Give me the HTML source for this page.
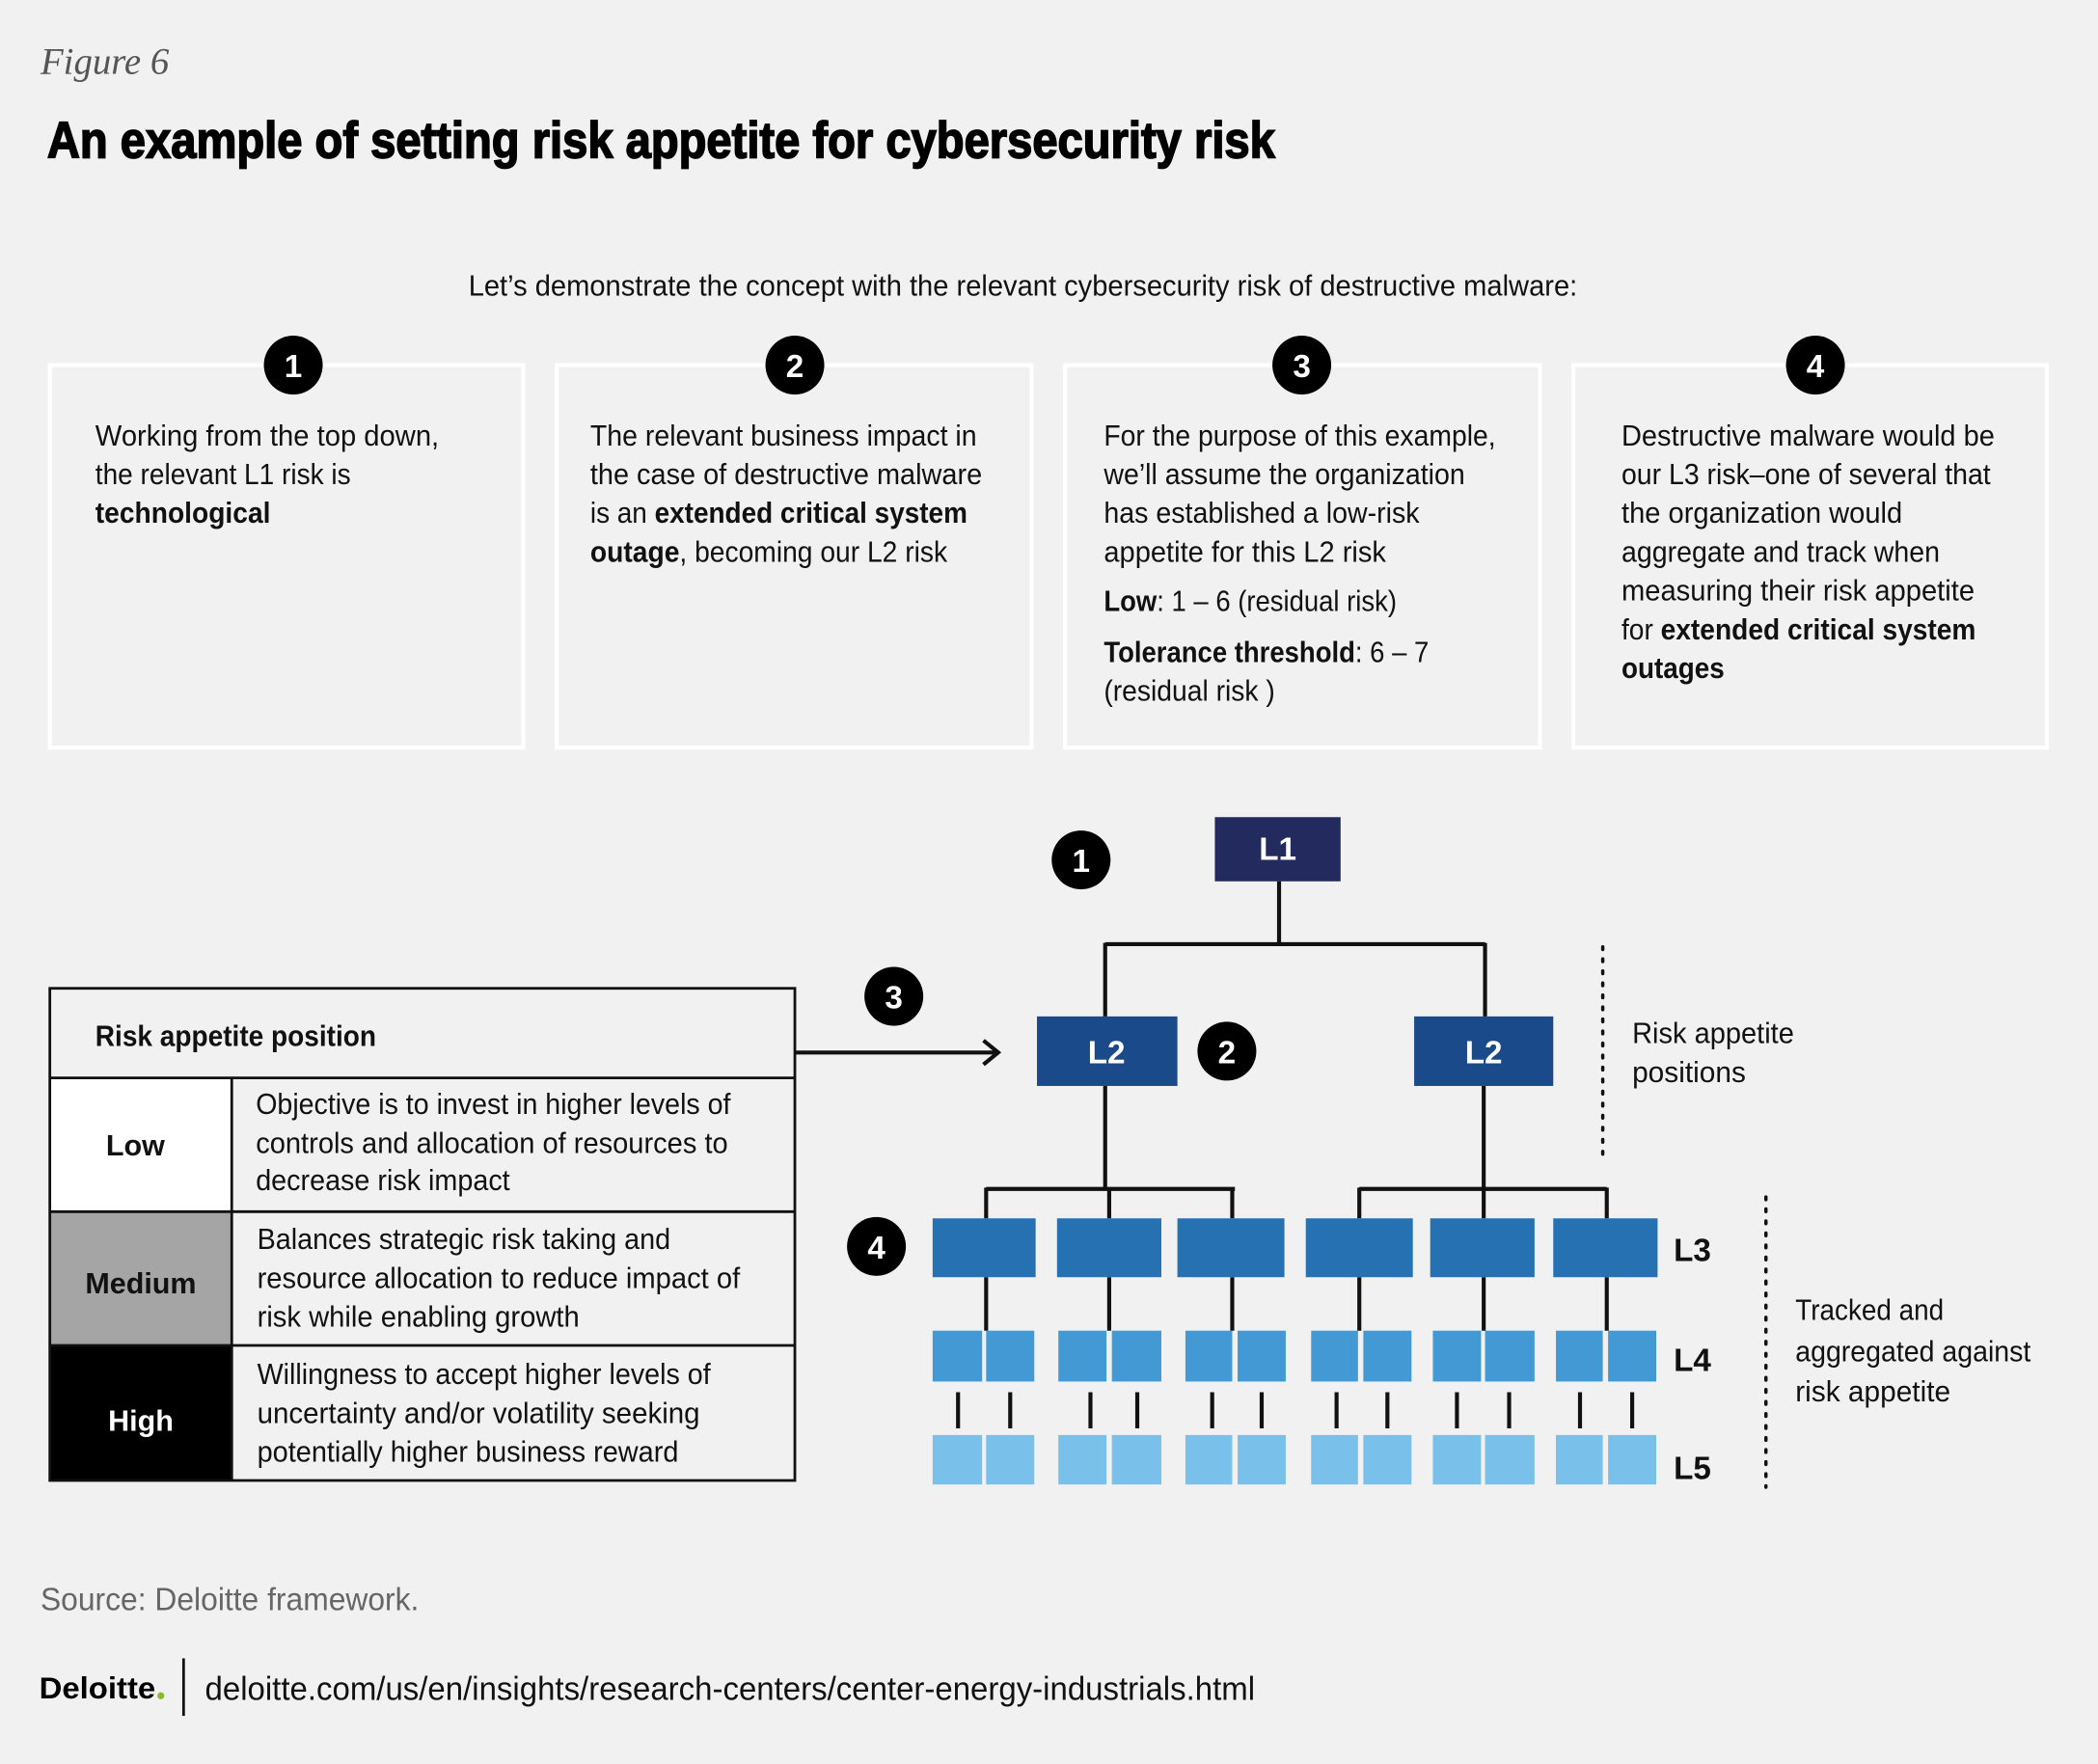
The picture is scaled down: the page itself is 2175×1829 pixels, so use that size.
<!DOCTYPE html>
<html><head><meta charset="utf-8"><style>
html,body{margin:0;padding:0;background:#f0f1f0;}
svg{display:block;}
text{font-family:"Liberation Sans Narrow","Liberation Sans",sans-serif;fill:#111;}
.t{font-size:22px;}
.b{font-weight:bold;}
.n{font-family:"Liberation Sans Narrow","Liberation Sans",sans-serif;font-weight:bold;font-size:24px;fill:#fff;}
</style></head><body>
<svg width="2175" height="1829" viewBox="0 0 1568 1319" xmlns="http://www.w3.org/2000/svg">
<rect width="1568" height="1319" fill="#f0f1f0"/>
<text x="30" y="55" style="font-family:'Liberation Serif',serif;font-style:italic;font-size:28px;fill:#555">Figure 6</text>
<text x="35" y="118" class="b" style="font-size:38px;fill:#000;stroke:#000;stroke-width:1.2" textLength="918" lengthAdjust="spacingAndGlyphs">An example of setting risk appetite for cybersecurity risk</text>
<text x="350" y="221" style="font-size:22px" textLength="829" lengthAdjust="spacingAndGlyphs">Let’s demonstrate the concept with the relevant cybersecurity risk of destructive malware:</text>

<g fill="none" stroke="#fff" stroke-width="3">
<rect x="37" y="273" width="354" height="286"/><rect x="416" y="273" width="355" height="286"/>
<rect x="796" y="273" width="355" height="286"/><rect x="1176" y="273" width="354" height="286"/>
</g>
<g>
<circle cx="219" cy="273" r="22" fill="#000"/><text x="219" y="282" class="n" text-anchor="middle">1</text>
<circle cx="594" cy="273" r="22" fill="#000"/><text x="594" y="282" class="n" text-anchor="middle">2</text>
<circle cx="973" cy="273" r="22" fill="#000"/><text x="973" y="282" class="n" text-anchor="middle">3</text>
<circle cx="1357" cy="273" r="22" fill="#000"/><text x="1357" y="282" class="n" text-anchor="middle">4</text>
</g>
<g class="t">
<text x="71" y="333" class="t" textLength="257" lengthAdjust="spacingAndGlyphs">Working from the top down,</text>
<text x="71" y="362" class="t" textLength="191" lengthAdjust="spacingAndGlyphs">the relevant L1 risk is</text>
<text x="71" y="391" class="t b" textLength="131" lengthAdjust="spacingAndGlyphs">technological</text>

<text x="441" y="333" class="t" textLength="289" lengthAdjust="spacingAndGlyphs">The relevant business impact in</text>
<text x="441" y="362" class="t" textLength="293" lengthAdjust="spacingAndGlyphs">the case of destructive malware</text>
<text x="441" y="391" class="t" textLength="282" lengthAdjust="spacingAndGlyphs">is an <tspan class="b">extended critical system</tspan></text>
<text x="441" y="420" class="t" textLength="267" lengthAdjust="spacingAndGlyphs"><tspan class="b">outage</tspan>, becoming our L2 risk</text>

<text x="825" y="333" class="t" textLength="293" lengthAdjust="spacingAndGlyphs">For the purpose of this example,</text>
<text x="825" y="362" class="t" textLength="270" lengthAdjust="spacingAndGlyphs">we’ll assume the organization</text>
<text x="825" y="391" class="t" textLength="236" lengthAdjust="spacingAndGlyphs">has established a low-risk</text>
<text x="825" y="420" class="t" textLength="211" lengthAdjust="spacingAndGlyphs">appetite for this L2 risk</text>
<text x="825" y="457" class="t" textLength="219" lengthAdjust="spacingAndGlyphs"><tspan class="b">Low</tspan>: 1 – 6 (residual risk)</text>
<text x="825" y="495" class="t" textLength="243" lengthAdjust="spacingAndGlyphs"><tspan class="b">Tolerance threshold</tspan>: 6 – 7</text>
<text x="825" y="524" class="t" textLength="128" lengthAdjust="spacingAndGlyphs">(residual risk )</text>

<text x="1212" y="333" class="t" textLength="279" lengthAdjust="spacingAndGlyphs">Destructive malware would be</text>
<text x="1212" y="362" class="t" textLength="276" lengthAdjust="spacingAndGlyphs">our L3 risk–one of several that</text>
<text x="1212" y="391" class="t" textLength="210" lengthAdjust="spacingAndGlyphs">the organization would</text>
<text x="1212" y="420" class="t" textLength="238" lengthAdjust="spacingAndGlyphs">aggregate and track when</text>
<text x="1212" y="449" class="t" textLength="264" lengthAdjust="spacingAndGlyphs">measuring their risk appetite</text>
<text x="1212" y="478" class="t" textLength="265" lengthAdjust="spacingAndGlyphs">for <tspan class="b">extended critical system</tspan></text>
<text x="1212" y="507" class="t b" textLength="77" lengthAdjust="spacingAndGlyphs">outages</text>
</g>

<g stroke="#111" stroke-width="3" fill="none">
<path d="M956 659V706M826 706H1110M826 705V760M1110 705V760"/>
<path d="M826 812V889M737 889H923M737 888V911M829 888V911M921 888V911"/>
<path d="M1109 812V889M1016 889H1201M1016 888V911M1109 888V911M1201 888V911"/>
<path d="M737 955V995M829 955V995M921 955V995M1016 955V995M1109 955V995M1201 955V995"/>
<path d="M716 1041V1068M755 1041V1068M815 1041V1068M850 1041V1068M906 1041V1068M943 1041V1068M999 1041V1068M1037 1041V1068M1089 1041V1068M1128 1041V1068M1181 1041V1068M1220 1041V1068"/>
<path d="M594 787H745M735 778L746 787L735 796"/>
</g>
<rect x="908" y="611" width="94" height="48" fill="#232a5e"/>
<text x="955" y="643" class="n" text-anchor="middle">L1</text>
<rect x="775" y="760" width="105" height="52" fill="#1b4a8a"/>
<text x="827" y="795" class="n" text-anchor="middle">L2</text>
<rect x="1057" y="760" width="104" height="52" fill="#1b4a8a"/>
<text x="1109" y="795" class="n" text-anchor="middle">L2</text>
<g fill="#2671b1">
<rect x="697" y="911" width="77" height="44"/><rect x="790" y="911" width="78" height="44"/><rect x="880" y="911" width="80" height="44"/>
<rect x="976" y="911" width="80" height="44"/><rect x="1069" y="911" width="78" height="44"/><rect x="1161" y="911" width="78" height="44"/>
</g>
<g fill="#4299d4">
<rect x="697" y="995" width="37" height="38"/><rect x="737" y="995" width="36" height="38"/>
<rect x="791" y="995" width="36" height="38"/><rect x="831" y="995" width="37" height="38"/>
<rect x="886" y="995" width="35" height="38"/><rect x="925" y="995" width="36" height="38"/>
<rect x="980" y="995" width="35" height="38"/><rect x="1019" y="995" width="36" height="38"/>
<rect x="1071" y="995" width="36" height="38"/><rect x="1110" y="995" width="37" height="38"/>
<rect x="1163" y="995" width="35" height="38"/><rect x="1202" y="995" width="36" height="38"/>
</g>
<g fill="#79c0ea">
<rect x="697" y="1073" width="37" height="37"/><rect x="737" y="1073" width="36" height="37"/>
<rect x="791" y="1073" width="36" height="37"/><rect x="831" y="1073" width="37" height="37"/>
<rect x="886" y="1073" width="35" height="37"/><rect x="925" y="1073" width="36" height="37"/>
<rect x="980" y="1073" width="35" height="37"/><rect x="1019" y="1073" width="36" height="37"/>
<rect x="1071" y="1073" width="36" height="37"/><rect x="1110" y="1073" width="37" height="37"/>
<rect x="1163" y="1073" width="35" height="37"/><rect x="1202" y="1073" width="36" height="37"/>
</g>
<circle cx="808" cy="643" r="22" fill="#000"/><text x="808" y="652" class="n" text-anchor="middle">1</text>
<circle cx="917" cy="786" r="22" fill="#000"/><text x="917" y="795" class="n" text-anchor="middle">2</text>
<circle cx="668" cy="745" r="22" fill="#000"/><text x="668" y="754" class="n" text-anchor="middle">3</text>
<circle cx="655" cy="932" r="22" fill="#000"/><text x="655" y="941" class="n" text-anchor="middle">4</text>
<text x="1251" y="943" class="b" style="font-size:24px">L3</text>
<text x="1251" y="1025" class="b" style="font-size:24px">L4</text>
<text x="1251" y="1106" class="b" style="font-size:24px">L5</text>
<g stroke="#111" stroke-width="2.5" stroke-dasharray="2 7" stroke-linecap="round">
<path d="M1198 708V866"/><path d="M1320 895V1112"/>
</g>
<text x="1220" y="780" class="t" textLength="121" lengthAdjust="spacingAndGlyphs">Risk appetite</text>
<text x="1220" y="809" class="t" textLength="85" lengthAdjust="spacingAndGlyphs">positions</text>
<text x="1342" y="987" class="t" textLength="111" lengthAdjust="spacingAndGlyphs">Tracked and</text>
<text x="1342" y="1018" class="t" textLength="176" lengthAdjust="spacingAndGlyphs">aggregated against</text>
<text x="1342" y="1048" class="t" textLength="116" lengthAdjust="spacingAndGlyphs">risk appetite</text>

<rect x="37" y="806" width="136" height="100" fill="#fff"/>
<rect x="37" y="906" width="136" height="100" fill="#a5a5a5"/>
<rect x="37" y="1006" width="136" height="101" fill="#000"/>
<g stroke="#111" stroke-width="2" fill="none">
<rect x="37" y="739" width="557" height="368"/>
<path d="M37 806H594M37 906H594M37 1006H594M173 806V1107"/>
</g>
<text x="71" y="782" class="t b" textLength="210" lengthAdjust="spacingAndGlyphs">Risk appetite position</text>
<text x="101" y="864" class="t b" text-anchor="middle">Low</text>
<text x="105" y="967" class="t b" text-anchor="middle">Medium</text>
<text x="105" y="1070" class="t b" text-anchor="middle" style="fill:#fff">High</text>
<text x="191" y="833" class="t" textLength="355" lengthAdjust="spacingAndGlyphs">Objective is to invest in higher levels of</text>
<text x="191" y="862" class="t" textLength="353" lengthAdjust="spacingAndGlyphs">controls and allocation of resources to</text>
<text x="191" y="890" class="t" textLength="190" lengthAdjust="spacingAndGlyphs">decrease risk impact</text>
<text x="192" y="934" class="t" textLength="309" lengthAdjust="spacingAndGlyphs">Balances strategic risk taking and</text>
<text x="192" y="963" class="t" textLength="361" lengthAdjust="spacingAndGlyphs">resource allocation to reduce impact of</text>
<text x="192" y="992" class="t" textLength="241" lengthAdjust="spacingAndGlyphs">risk while enabling growth</text>
<text x="192" y="1035" class="t" textLength="339" lengthAdjust="spacingAndGlyphs">Willingness to accept higher levels of</text>
<text x="192" y="1064" class="t" textLength="331" lengthAdjust="spacingAndGlyphs">uncertainty and/or volatility seeking</text>
<text x="192" y="1093" class="t" textLength="315" lengthAdjust="spacingAndGlyphs">potentially higher business reward</text>

<text x="30" y="1204" style="font-size:24px;fill:#666" textLength="283" lengthAdjust="spacingAndGlyphs">Source: Deloitte framework.</text>
<text x="29" y="1270" class="b" style="font-size:23px;fill:#000" textLength="87" lengthAdjust="spacingAndGlyphs">Deloitte</text>
<circle cx="120" cy="1268" r="2.6" fill="#86bc25"/>
<path d="M137 1240V1283" stroke="#111" stroke-width="2"/>
<text x="153" y="1271" style="font-size:25px" textLength="785" lengthAdjust="spacingAndGlyphs">deloitte.com/us/en/insights/research-centers/center-energy-industrials.html</text>
</svg>
</body></html>
